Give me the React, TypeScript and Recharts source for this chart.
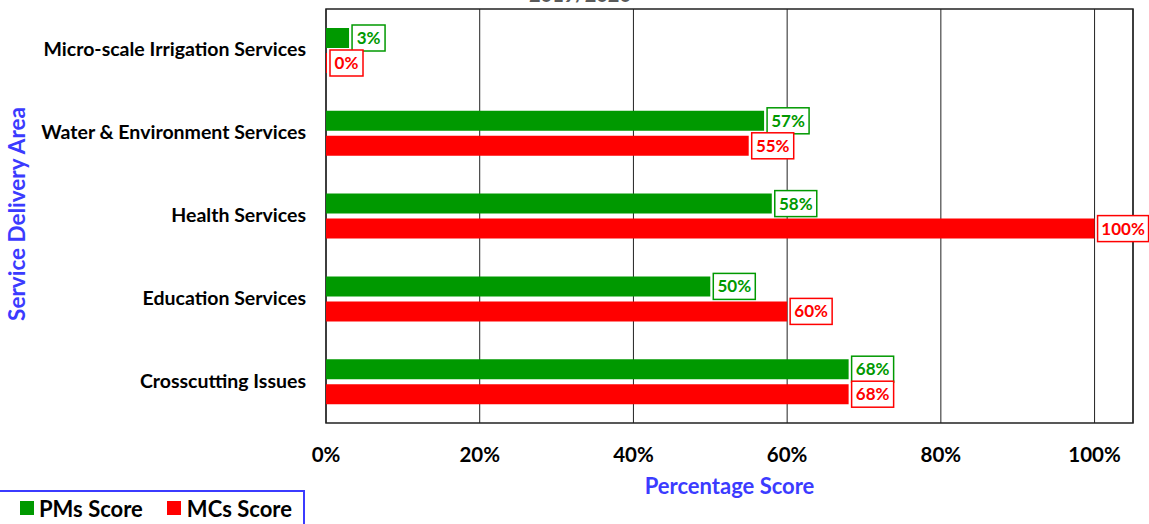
import { BarChart, Bar, XAxis, YAxis, CartesianGrid, ReferenceArea, LabelList, Customized } from 'recharts'

const categories = [
  'Micro-scale Irrigation Services',
  'Water & Environment Services',
  'Health Services',
  'Education Services',
  'Crosscutting Issues',
]
const pmsScore = [0.03, 0.57, 0.58, 0.5, 0.68]
const mcsScore = [0, 0.55, 1.0, 0.6, 0.68]
const xTicks = [0, 0.2, 0.4, 0.6, 0.8, 1.0]

const GREEN = '#009900'
const RED = '#FF0000'
const BLUE = '#3B3BFF'
const FONT = 'Lato, "Open Sans", sans-serif'

const data = categories.map((name, i) => ({ name, pms: pmsScore[i], mcs: mcsScore[i] }))

const pct = (v: number) => `${Math.round(v * 100)}%`

// boxed value label to the right of the bar end
function boxLabel(color: string) {
  return (props: any) => {
    const { x, y, width, height, value } = props
    const txt = pct(value)
    const w = txt.length * 9 + 15
    const bx = x + Math.max(width, 0) + 3
    const cy = y + height / 2
    return (
      <g>
        <rect x={bx} y={cy - 13} width={w} height={26} fill="#fff" stroke={color} strokeWidth={1.5} />
        <text x={bx + w / 2} y={cy + 6} textAnchor="middle" fill={color} fontSize={17} fontWeight={700} fontFamily={FONT}>
          {txt}
        </text>
      </g>
    )
  }
}

const YTick = (props: any) => {
  const { y, payload } = props
  return (
    <text x={306} y={y + 6} textAnchor="end" fill="#000" fontSize={19.5} fontWeight={700} fontFamily={FONT}>
      {payload.value}
    </text>
  )
}

const XTick = (props: any) => {
  const { x, y, payload } = props
  return (
    <text x={x} y={y + 31} textAnchor="middle" fill="#000" fontSize={20.5} fontWeight={700} fontFamily={FONT}>
      {pct(payload.value)}
    </text>
  )
}

const LegendBox = () => (
  <div
    style={{
      position: 'absolute',
      left: -2,
      top: 490,
      width: 307,
      height: 40,
      border: `2px solid ${BLUE}`,
      boxSizing: 'border-box',
      display: 'flex',
      alignItems: 'center',
      fontFamily: FONT,
      fontWeight: 700,
      fontSize: 22,
      color: '#000',
      paddingLeft: 20,
      paddingBottom: 4,
    }}
  >
    <span style={{ width: 14, height: 14, background: GREEN, display: 'inline-block', marginRight: 5 }} />
    <span style={{ marginRight: 24 }}>PMs Score</span>
    <span style={{ width: 14, height: 14, background: RED, display: 'inline-block', marginRight: 6 }} />
    <span>MCs Score</span>
  </div>
)

export default function App() {
  return (
    <div style={{ position: 'absolute', left: 0, top: 0, width: 1149, height: 524, overflow: 'hidden', background: '#fff' }}>
      <BarChart
        width={1149}
        height={524}
        data={data}
        layout="vertical"
        margin={{ top: 9, right: 16, bottom: 0, left: 0 }}
        barSize={20}
        barGap={5}
      >
        <CartesianGrid horizontal={false} stroke="#222" strokeWidth={1} />
        <XAxis
          type="number"
          domain={[0, 1.05]}
          ticks={xTicks}
          tick={<XTick />}
          tickLine={false}
          axisLine={false}
          height={101}
          label={(p: any) => {
            const vb = p.viewBox
            return (
              <text x={vb.x + vb.width / 2} y={vb.y + 71} textAnchor="middle" fill={BLUE} fontSize={22} fontWeight={700} fontFamily={FONT}>
                Percentage Score
              </text>
            )
          }}
        />
        <YAxis
          type="category"
          dataKey="name"
          width={326}
          tick={<YTick />}
          tickLine={false}
          axisLine={false}
          label={() => (
            <text x={25} y={214} transform="rotate(-90 25 214)" textAnchor="middle" fill={BLUE} fontSize={22.5} fontWeight={700} fontFamily={FONT}>
              Service Delivery Area
            </text>
          )}
        />
        <ReferenceArea x1={0} x2={1.05} fill="none" stroke="#222" strokeWidth={1.5} ifOverflow="extendDomain" />
        <Bar dataKey="pms" name="PMs Score" fill={GREEN} minPointSize={1} isAnimationActive={false}>
          <LabelList dataKey="pms" content={boxLabel(GREEN)} />
        </Bar>
        <Bar dataKey="mcs" name="MCs Score" fill={RED} minPointSize={1} isAnimationActive={false}>
          <LabelList dataKey="mcs" content={boxLabel(RED)} />
        </Bar>
        <Customized
          component={() => (
            <text x={580} y={2} textAnchor="middle" fill="#595959" fontSize={20} fontWeight={700} fontFamily={FONT}>
              2019/2020
            </text>
          )}
        />
      </BarChart>
      <LegendBox />
    </div>
  )
}
